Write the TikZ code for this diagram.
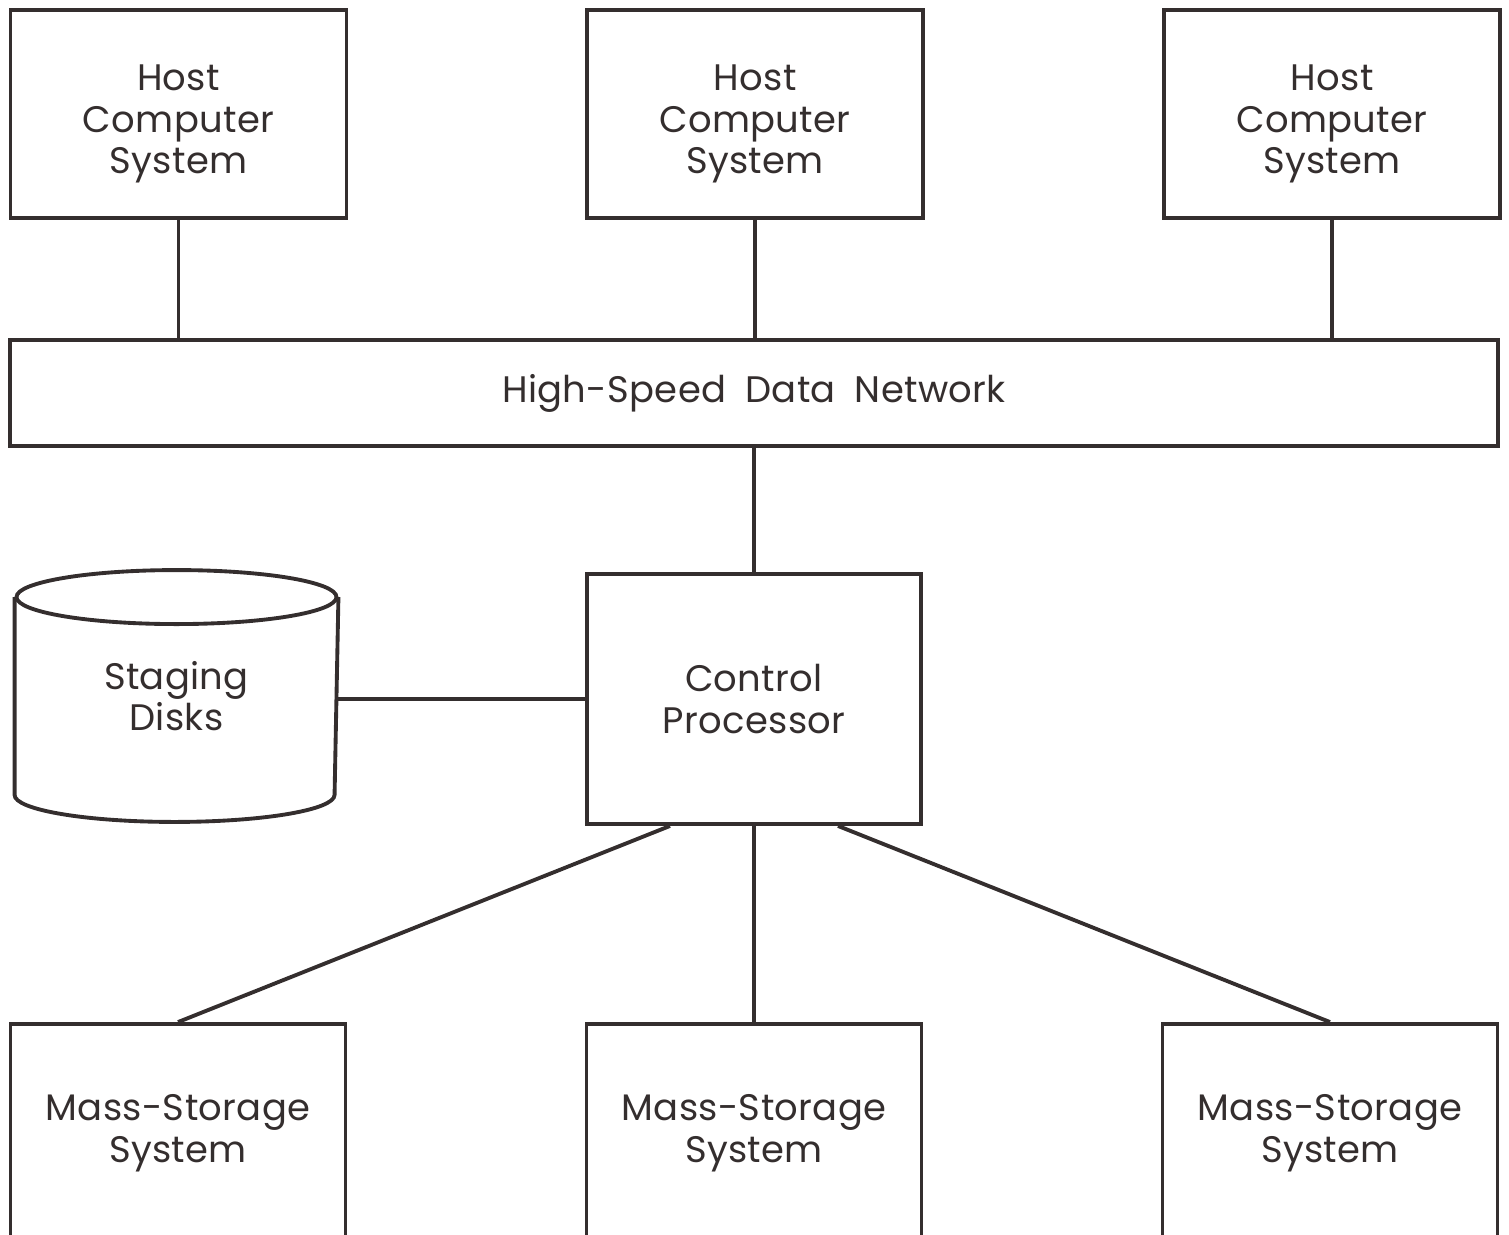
\documentclass[tikz,border=0pt]{standalone}
\usepackage{fontspec}
\setmainfont[LetterSpace=1]{Poppins}
\usepackage{xcolor}
\usepackage{tikz}
\definecolor{ink}{RGB}{52,46,46}
\newcommand{\hostlabel}{\rule{0pt}{4.6mm}Host\\Computer\\System}
\newcommand{\masslabel}{Mass-Storage\\System}

\begin{document}
\begin{tikzpicture}[
		line width=1.1pt, draw=ink,
		unit/.style={draw=ink, rectangle, align=center, inner sep=0pt, text=ink,
			font=\fontsize{10.5}{11.8}\selectfont},
		host/.style={unit, minimum width=3.36cm, minimum height=2.08cm},
		mass/.style={unit, minimum width=3.35cm, minimum height=2.18cm},
		link/.style={draw=ink, line width=1.1pt}
	]
		\useasboundingbox (0,0) rectangle (15.09,12.34);
		
		\node[host] (host1) at (1.785,11.20) {\hostlabel};
		\node[host] (host2) at (7.55,11.20) {\hostlabel};
		\node[host] (host3) at (13.32,11.20) {\hostlabel};
		
		\node[unit, minimum width=14.88cm, minimum height=1.06cm] (net) at (7.54,8.41) {High-Speed\hspace{2.5pt} Data\hspace{2.5pt} Network};
		
		\node[unit, minimum width=3.34cm, minimum height=2.50cm] (ctrl) at (7.54,5.35) {Control\\Processor};
		
		% staging disks, drawn round an empty box
		\node[unit, draw=none, minimum width=3.20cm, minimum height=1.94cm] (disks) at (1.765,5.38) {Staging\\Disks};
		\draw[ink] (disks.north west) -- (disks.south west)
			arc[start angle=180, end angle=360, x radius=1.60cm, y radius=0.27cm] -- (disks.north east);
		\draw[ink] (disks.north) ellipse [x radius=1.60cm, y radius=0.27cm];
		
		\node[mass] (mass1) at (1.78,1.01) {\masslabel};
		\node[mass] (mass2) at (7.54,1.01) {\masslabel};
		\node[mass] (mass3) at (13.30,1.01) {\masslabel};
		
		\draw[link] (host1) -- (host1 |- net.north);
		\draw[link] (host2) -- (host2 |- net.north);
		\draw[link] (host3) -- (host3 |- net.north);
		\draw[link] (net) -- (ctrl);
		\draw[link] (ctrl.west -| disks.east) -- (ctrl.west);
		\draw[link] ([xshift=-0.84cm]ctrl.south) -- (mass1.north);
		\draw[link] (ctrl.south) -- (mass2.north);
		\draw[link] ([xshift=0.84cm]ctrl.south) -- (mass3.north);
	\end{tikzpicture}
\end{document}
